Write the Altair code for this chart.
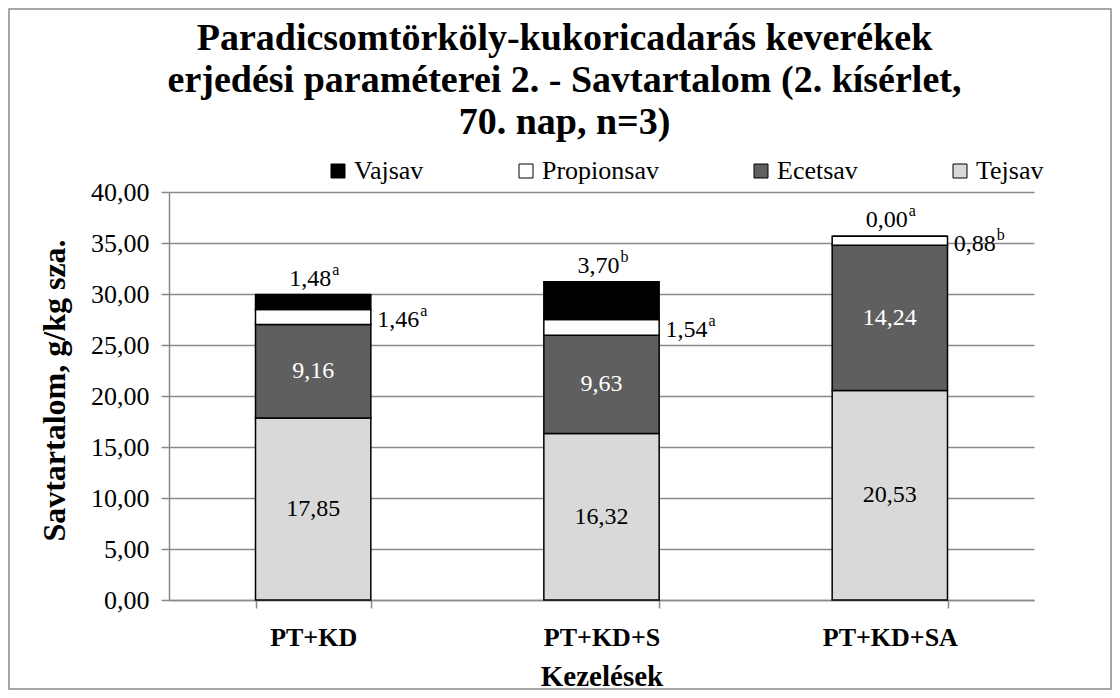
import altair as alt
import pandas as pd

# ---- data ----
treatments = ["PT+KD", "PT+KD+S", "PT+KD+SA"]
acids_legend = ["Vajsav", "Propionsav", "Ecetsav", "Tejsav"]
tejsav = [17.85, 16.32, 20.53]
ecetsav = [9.16, 9.63, 14.24]
propionsav = [1.46, 1.54, 0.88]
vajsav = [1.48, 3.70, 0.00]
propion_letters = ["a", "a", "b"]
vaj_letters = ["a", "b", "a"]
title_lines = [
    "Paradicsomtörköly-kukoricadarás keverékek",
    "erjedési paraméterei 2. - Savtartalom (2. kísérlet,",
    "70. nap, n=3)",
]
y_ticks = [0, 5, 10, 15, 20, 25, 30, 35, 40]

rows = []
for i, t in enumerate(treatments):
    rows.append({"treatment": t, "acid": "Tejsav", "value": tejsav[i], "letter": "", "stack_order": 0})
    rows.append({"treatment": t, "acid": "Ecetsav", "value": ecetsav[i], "letter": "", "stack_order": 1})
    rows.append({"treatment": t, "acid": "Propionsav", "value": propionsav[i], "letter": propion_letters[i], "stack_order": 2})
    rows.append({"treatment": t, "acid": "Vajsav", "value": vajsav[i], "letter": vaj_letters[i], "stack_order": 3})
df = pd.DataFrame(rows)

SERIF = "Liberation Serif"
GRAY = "#8a8a8a"
fmt = "replace(format(datum.value, '.2f'), '.', ',')"

base = (
    alt.Chart(df)
    .transform_stack(stack="value", groupby=["treatment"], as_=["y0", "y1"],
                     sort=[alt.SortField("stack_order", order="ascending")])
    .transform_calculate(mid="(datum.y0 + datum.y1) / 2", label=fmt)
)

x_scale = alt.Scale(domain=treatments, paddingInner=0.6, paddingOuter=0.3)
x_axis = alt.Axis(
    title="Kezelések", labelAngle=0, labelFont=SERIF, labelFontSize=26, labelFontWeight="bold",
    labelColor="black", labelPadding=16, tickBand="extent", tickSize=8, tickColor=GRAY, tickWidth=1.5,
    domainColor=GRAY, domainWidth=1.5, grid=False, titleFont=SERIF, titleFontSize=29,
    titleFontWeight="bold", titleColor="black", titleY=76, titleBaseline="middle",
)
y_scale = alt.Scale(domain=[0, 40], nice=False)
y_axis = alt.Axis(
    title="Savtartalom, g/kg sza.", values=y_ticks, labelExpr=fmt, labelFont=SERIF, labelFontSize=26,
    labelColor="black", labelPadding=12, tickSize=8, tickColor=GRAY, tickWidth=1.5,
    domainColor=GRAY, domainWidth=1.5, grid=True, gridColor=GRAY, gridWidth=1.5,
    titleFont=SERIF, titleFontSize=32, titleFontWeight="bold", titleColor="black",
    titleX=-115, titleY=198, titleAngle=-90, titleAlign="center", titleBaseline="middle",
)


def xe():
    return alt.X("treatment:N", scale=x_scale, axis=x_axis)


def ye(field):
    return alt.Y(field + ":Q", scale=y_scale, axis=y_axis)


bars = base.mark_bar(stroke="black", strokeWidth=1.5).encode(
    x=xe(),
    y=ye("y0"),
    y2="y1:Q",
    color=alt.Color(
        "acid:N",
        scale=alt.Scale(domain=acids_legend, range=["#000000", "#ffffff", "#5f5f5f", "#d9d9d9"]),
        legend=alt.Legend(
            title=None, orient="none", legendX=156, legendY=-34, direction="horizontal", columns=4,
            symbolType="square", symbolSize=196, symbolStrokeColor="black", symbolStrokeWidth=1,
            labelFont=SERIF, labelFontSize=26, labelColor="black", labelOffset=3,
            columnPadding=89, padding=0,
        ),
    ),
)

LBL = 24
SUP = 16
tej = base.transform_filter("datum.acid == 'Tejsav'").mark_text(
    font=SERIF, fontSize=LBL, color="black", baseline="middle").encode(x=xe(), y=ye("mid"), text="label:N")
ecet = base.transform_filter("datum.acid == 'Ecetsav'").mark_text(
    font=SERIF, fontSize=LBL, color="white", baseline="middle").encode(x=xe(), y=ye("mid"), text="label:N")
prop = base.transform_filter("datum.acid == 'Propionsav'").mark_text(
    font=SERIF, fontSize=LBL, color="black", baseline="middle", align="left", dx=64, dy=3
).encode(x=xe(), y=ye("mid"), text="label:N")
prop_sup = base.transform_filter("datum.acid == 'Propionsav'").mark_text(
    font=SERIF, fontSize=SUP, color="black", baseline="middle", align="left", dx=107, dy=-6
).encode(x=xe(), y=ye("mid"), text="letter:N")
vaj = base.transform_filter("datum.acid == 'Vajsav'").mark_text(
    font=SERIF, fontSize=LBL, color="black", baseline="middle", align="left", dx=-24, dy=-16
).encode(x=xe(), y=ye("y1"), text="label:N")
vaj_sup = base.transform_filter("datum.acid == 'Vajsav'").mark_text(
    font=SERIF, fontSize=SUP, color="black", baseline="middle", align="left", dx=19, dy=-25
).encode(x=xe(), y=ye("y1"), text="letter:N")

border = alt.Chart(alt.Data(values=[{"k": 1}])).mark_rect(
    filled=False, stroke=GRAY, strokeWidth=1.5
).encode(x=alt.value(-160), x2=alt.value(942), y=alt.value(-183), y2=alt.value(497))

chart = (
    alt.layer(border, bars, tej, ecet, prop, prop_sup, vaj, vaj_sup)
    .properties(
        width=865, height=408,
        padding={"left": 161, "top": 184, "right": 78, "bottom": 90},
        autosize=alt.AutoSizeParams(type="none"),
        title=alt.TitleParams(
            text=title_lines, font=SERIF, fontSize=38, fontWeight="bold", color="black",
            lineHeight=42, anchor="middle", dx=-37, offset=-134,
        ),
        background="white",
    )
    .configure(font=SERIF)
    .configure_text(font=SERIF)
    .configure_axis(labelFont=SERIF, titleFont=SERIF)
    .configure_legend(labelFont=SERIF, titleFont=SERIF)
    .configure_view(strokeOpacity=0)
)

chart.save("out.html", embed_options={"renderer": "svg", "actions": False})
